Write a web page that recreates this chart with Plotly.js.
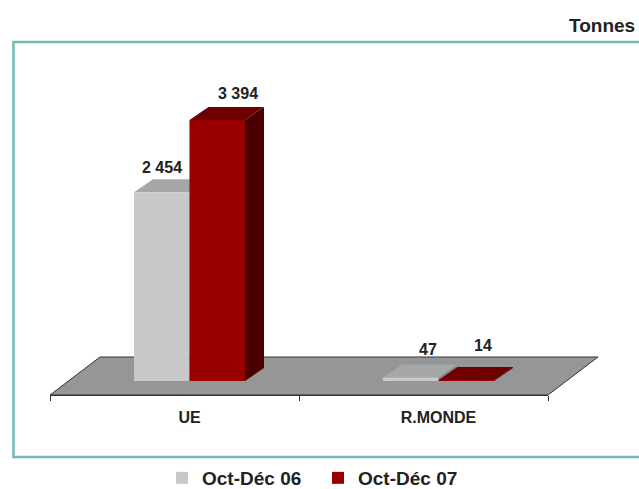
<!DOCTYPE html>
<html>
<head>
<meta charset="utf-8">
<script src="https://cdn.plot.ly/plotly-3.0.1.min.js"></script>
<style>html,body{margin:0;padding:0;background:#fff;}#chart{width:639px;height:489px;}</style>
</head>
<body>
<div id="chart"></div>
<script>
// ---- data ----
const categories = ['UE', 'R.MONDE'];
const seriesNames = ['Oct-Déc 06', 'Oct-Déc 07'];
const oct_dec_06 = [2454, 47];
const oct_dec_07 = [3394, 14];
const unitLabel = 'Tonnes';

// ---- style / geometry ----
const W = 639, H = 489;
const PX_PER_CAT = 249;          // px per category unit
const T_PER_PX = 13;             // tonnes per px
const ZERO_PX_X = 189.5;         // px of first category centre
const ZERO_PX_Y = 381;           // px of value 0
const BW = 55.5 / PX_PER_CAT;    // bar width (category units)
const DX = 19 / PX_PER_CAT;      // bar depth, x
const DY = 13 * T_PER_PX;        // bar depth, y
const FLOOR_X0 = (50 - ZERO_PX_X) / PX_PER_CAT;
const FLOOR_Y0 = (ZERO_PX_Y - 395) * T_PER_PX;
const FLOOR_DX = 50 / PX_PER_CAT;
const FLOOR_DY = 38 * T_PER_PX;
const frontColors = ['#c8c8ca', '#980000'];
const topColors = ['#a6a7a9', '#6e0000'];
const sideColors = ['#8a8b8d', '#4a0000'];
const offsets = [-BW, 0];
const labelXShift = [[0, 17], [21, 17]];
const labelYShift = [[12, 15], [13, 21]];
const FONT = 'Liberation Sans, Arial, sans-serif';

const seriesValues = [oct_dec_06, oct_dec_07];
const xr = [-ZERO_PX_X / PX_PER_CAT, (W - ZERO_PX_X) / PX_PER_CAT];
const yr = [(ZERO_PX_Y - H) * T_PER_PX, ZERO_PX_Y * T_PER_PX];
const idx = categories.map((c, i) => i);
const fmt = v => String(v).replace(/\B(?=(\d{3})+(?!\d))/g, ' ');

const traces = [];
// floor
const nC = categories.length;
traces.push({
  type: 'scatter', mode: 'lines', xaxis: 'x', yaxis: 'y',
  x: [FLOOR_X0, FLOOR_X0 + nC, FLOOR_X0 + nC + FLOOR_DX, FLOOR_X0 + FLOOR_DX, FLOOR_X0],
  y: [FLOOR_Y0, FLOOR_Y0, FLOOR_Y0 + FLOOR_DY, FLOOR_Y0 + FLOOR_DY, FLOOR_Y0],
  fill: 'toself', fillcolor: '#969696', line: {color: '#333', width: 1},
  showlegend: false, hoverinfo: 'skip'
});
// side and top faces
seriesValues.forEach((vals, s) => {
  const sx = [], sy = [], tx = [], ty = [];
  vals.forEach((v, i) => {
    const x0 = i + offsets[s], x1 = x0 + BW;
    sx.push(x1, x1, x1 + DX, x1 + DX, x1, null);
    sy.push(0, v, v + DY, DY, 0, null);
    tx.push(x0, x1, x1 + DX, x0 + DX, x0, null);
    ty.push(v, v, v + DY, v + DY, v, null);
  });
  traces.push({type: 'scatter', mode: 'lines', x: sx, y: sy, fill: 'toself',
    fillcolor: sideColors[s], line: {width: 0, color: sideColors[s]}, showlegend: false, hoverinfo: 'skip'});
  traces.push({type: 'scatter', mode: 'lines', x: tx, y: ty, fill: 'toself',
    fillcolor: topColors[s], line: {width: 0, color: topColors[s]}, showlegend: false, hoverinfo: 'skip'});
});
// front faces (bars)
seriesValues.forEach((vals, s) => {
  traces.push({
    type: 'bar', xaxis: 'x3', yaxis: 'y', name: seriesNames[s],
    x: idx, y: vals, base: 0, width: BW, offset: offsets[s],
    marker: {color: frontColors[s], line: {width: 0}}
  });
});
// dummy for category axis
traces.push({type: 'scatter', mode: 'markers', xaxis: 'x2', yaxis: 'y', x: idx, y: idx.map(() => FLOOR_Y0),
  marker: {opacity: 0}, showlegend: false, hoverinfo: 'skip'});

const annotations = [];
seriesValues.forEach((vals, s) => {
  vals.forEach((v, i) => {
    annotations.push({
      xref: 'x', yref: 'y', x: i + offsets[s] + BW / 2, y: v + DY,
      xshift: labelXShift[s][i], yshift: labelYShift[s][i],
      text: fmt(v), showarrow: false, xanchor: 'center', yanchor: 'middle',
      font: {family: FONT, size: 16, weight: 'bold', color: '#222'}
    });
  });
});
annotations.push({xref: 'paper', yref: 'paper', x: 637 / W, y: (H - 25) / H, xanchor: 'right', yanchor: 'middle',
  text: unitLabel, showarrow: false, font: {family: FONT, size: 19, weight: 'bold', color: '#222'}});

const layout = {
  width: W, height: H,
  margin: {l: 0, r: 0, t: 0, b: 0, pad: 0, autoexpand: false},
  paper_bgcolor: '#fff', plot_bgcolor: 'rgba(0,0,0,0)',
  barmode: 'overlay',
  showlegend: true,
  xaxis: {range: xr, visible: false, fixedrange: true},
  xaxis3: {range: xr, visible: false, overlaying: 'x', fixedrange: true},
  yaxis: {range: yr, visible: false, fixedrange: true},
  xaxis2: {
    domain: [50 / W, 548 / W], range: [FLOOR_X0, FLOOR_X0 + nC], anchor: 'free', position: (H - 395) / H,
    showline: true, linecolor: '#333', linewidth: 1, showgrid: false, zeroline: false,
    tickmode: 'array', tickvals: idx, ticktext: categories, ticks: '',
    ticklabelstandoff: 8,
    tickfont: {family: FONT, size: 16, weight: 'bold', color: '#222'},
    minor: {tickmode: 'array', tickvals: Array.from({length: nC + 1}, (_, k) => FLOOR_X0 + k),
      ticks: 'outside', ticklen: 5, tickcolor: '#333', tickwidth: 1, showgrid: false},
    fixedrange: true
  },
  legend: {orientation: 'h', x: 162 / W, xanchor: 'left', yref: 'container', y: (H - 478) / H, yanchor: 'middle',
    entrywidth: 111, entrywidthmode: 'pixels',
    bgcolor: 'rgba(0,0,0,0)', font: {family: FONT, size: 19, weight: 'bold', color: '#222'}, traceorder: 'normal'},
  shapes: [{type: 'rect', xref: 'paper', yref: 'paper', x0: 13.5 / W, x1: 1.05, y0: (H - 457) / H, y1: (H - 42) / H,
    line: {color: '#70bcb8', width: 2.5}, fillcolor: 'rgba(0,0,0,0)', layer: 'below'}],
  annotations: annotations
};

Plotly.newPlot('chart', traces, layout, {displayModeBar: false, staticPlot: true});
</script>
</body>
</html>
